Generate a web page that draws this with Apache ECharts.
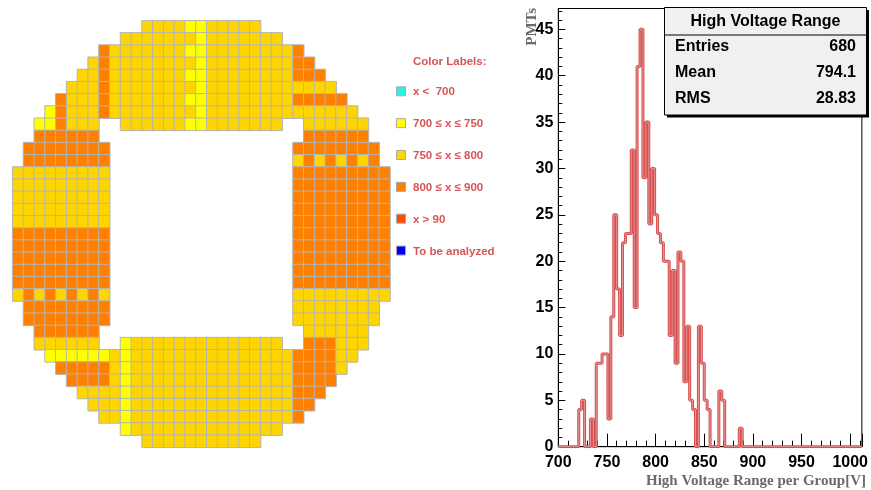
<!DOCTYPE html>
<html><head><meta charset="utf-8">
<script src="https://cdn.jsdelivr.net/npm/echarts@6/dist/echarts.min.js"></script>
<style>html,body{margin:0;padding:0;background:#fff}#c{width:871px;height:490px}</style>
</head><body><div id="c"></div>
<script>
// ---- PMT map: one string per row, one char per cell (. = no PMT) ----
const pmtRows = [
  '............' + 'GGGGYYGGGGG' + '............',
  '..........' + 'GGGGGGGYGGGGGGG' + '..........',
  '........' + 'O' + 'GGGGGGGYYGGGGGGGG' + 'O' + '........',
  '.......' + 'GO' + 'GGGGGGGGYGGGGGGGG' + 'OO' + '.......',
  '......' + 'GGO' + 'GGGGGGGYYGGGGGGGG' + 'OOO' + '......',
  '.....' + 'GGGO' + 'GGGGGGGGYGGGGGGGG' + 'GGGG' + '.....',
  '....' + 'OGGGO' + 'GGGGGGGYYGGGGGGGG' + 'OOOOO' + '....',
  '...' + 'YOGGGO' + 'GGGGGGGGYGGGGGGGG' + 'GGGGGG' + '...',
  '..' + 'YYOGGG' + '..' + 'GGGGGGYYGGGGGGG' + '..' + 'GGGGGG' + '..',
  '..' + 'OOOOOO' + '...................' + 'OOOOOO' + '..',
  '.' + 'OOOOOOOO' + '.................' + 'OOOOOOOO' + '.',
  '.' + 'OOOOOOOO' + '.................' + 'GOGOGOGO' + '.',
  'GGGGGGGGG' + '.................' + 'OOOOOOOOO',
  'GGGGGGGGG' + '.................' + 'OOOOOOOOO',
  'GGGGGGGGG' + '.................' + 'OOOOOOOOO',
  'GGGGGGGGG' + '.................' + 'OOOOOOOOO',
  'GGGGGGGGG' + '.................' + 'OOOOOOOOO',
  'OOOOOOOOO' + '.................' + 'OOOOOOOOO',
  'OOOOOOOOO' + '.................' + 'OOOOOOOOO',
  'OOOOOOOOO' + '.................' + 'OOOOOOOOO',
  'OOOOOOOOO' + '.................' + 'OOOOOOOOO',
  'OOOOOOOOO' + '.................' + 'OOOOOOOOO',
  'GOGOGOGOG' + '.................' + 'GGGGGGGGG',
  '.' + 'OOOOOOOO' + '.................' + 'GGGGGGGG' + '.',
  '.' + 'OOOOOOOO' + '.................' + 'GGGGGGGG' + '.',
  '..' + 'OOOOOO' + '...................' + 'GGGGGG' + '..',
  '..' + 'GGGGGG' + '..' + 'YGGGGGGGGGGGGGG' + '..' + 'OOOGGG' + '..',
  '...' + 'YYYYYYGY' + 'GGGGGGGGGGGGGGG' + 'OOOOGG' + '...',
  '....' + 'OOOOOGY' + 'GGGGGGGGGGGGGGG' + 'OOOOG' + '....',
  '.....' + 'OOOOGY' + 'GGGGGGGGGGGGGGG' + 'OOOO' + '.....',
  '......' + 'GGGGY' + 'GGGGGGGGGGGGGGG' + 'OOO' + '......',
  '.......' + 'GGGY' + 'GGGGGGGGGGGGGGG' + 'OO' + '.......',
  '........' + 'GGY' + 'GGGGGGGGGGGGGGG' + 'O' + '........',
  '..........' + 'Y' + 'GGGGGGGGGGGGGG' + '..........',
  '............' + 'GGGGGGGGGGG' + '............'
];
const legendKeys   = ['C', 'Y', 'G', 'O', 'R', 'B'];
const legendLabels = ['x <  700', '700 \u2264 x \u2264 750', '750 \u2264 x \u2264 800', '800 \u2264 x \u2264 900', 'x > 90', 'To be analyzed'];
const keyColors = { C: '#2ef2e0', Y: '#ffff00', G: '#ffd500', O: '#ff7f00', R: '#ff4a00', B: '#0000ff' };

// ---- Histogram: 3 V bins from 700 V ----
const binStart = 700;
const binWidth = 3;
const counts = [
  0, 0, 0, 0, 0, 0, 0, 4, 5, 0,
  0, 3, 0, 9, 9, 10, 10, 3, 14, 25,
  17, 12, 22, 23, 23, 32, 15, 41, 45, 29,
  35, 24, 30, 25, 23, 22, 20, 20, 12, 19,
  9, 21, 20, 7, 13, 5, 4, 0, 13, 9,
  5, 4, 0, 0, 0, 6, 5, 0, 0, 0,
  0, 0, 2, 0, 0, 0, 0, 0, 0, 0,
  0, 0, 0, 0, 0, 0, 0, 0, 0, 0,
  0, 0, 0, 0, 0, 0, 0, 0, 0, 0,
  0, 0, 0, 0, 0, 0, 0, 0, 0, 0,
  0, 0, 0, 0
];
const xMin = 700, xMax = 1012, xMajor = 50, xMinor = 10;
const yMin = 0, yMax = 47.25, yMajor = 5, yMinor = 1;
const statsTitle = 'High Voltage Range';
const statsLabels = ['Entries', 'Mean', 'RMS'];
const statsValues = ['680', '794.1', '28.83'];
const xTitle = 'High Voltage Range per Group[V]';
const yTitle = 'PMTs';

// ---- build ----
const nCols = pmtRows[0].length, nRows = pmtRows.length;
const cellData = [];
pmtRows.forEach((row, r) => {
  for (let c = 0; c < row.length; c++) {
    const k = row[c];
    if (k !== '.') cellData.push([c, r, legendKeys.indexOf(k)]);
  }
});
const histData = counts.map((v, k) => [binStart + k * binWidth, v]);
histData.push([binStart + counts.length * binWidth, 0]);

const sans = '"Liberation Sans", Arial, sans-serif';
const serif = '"Liberation Serif", "Times New Roman", serif';
const legendColor = '#d65656';

const graphics = [];
graphics.push({ type: 'text', x: 413, y: 61.7, style: { text: 'Color Labels:', fill: legendColor, font: 'bold 11.5px ' + sans, align: 'left', verticalAlign: 'middle' } });
legendKeys.forEach((k, i) => {
  const yc = 92.3 + i * 31.85;
  graphics.push({ type: 'rect', shape: { x: 396.5, y: yc - 5.5, width: 9, height: 9 }, style: { fill: keyColors[k], stroke: '#a8a8a8', lineWidth: 1 } });
  graphics.push({ type: 'text', x: 413, y: yc, style: { text: legendLabels[i], fill: legendColor, font: 'bold 11.5px ' + sans, align: 'left', verticalAlign: 'middle' } });
});
// stats box
graphics.push({ type: 'rect', z: 10, shape: { x: 667, y: 10, width: 202, height: 107.5 }, style: { fill: '#000' } });
graphics.push({ type: 'rect', z: 11, shape: { x: 664.5, y: 7.5, width: 202, height: 107.5 }, style: { fill: '#f0f0f0', stroke: '#000', lineWidth: 1 } });
graphics.push({ type: 'line', z: 12, shape: { x1: 664.5, y1: 35, x2: 866.5, y2: 35 }, style: { stroke: '#000', lineWidth: 1 } });
graphics.push({ type: 'text', z: 12, x: 765.5, y: 21.5, style: { text: statsTitle, fill: '#000', font: 'bold 16px ' + sans, align: 'center', verticalAlign: 'middle' } });
statsLabels.forEach((l, i) => {
  const yc = 47 + i * 26;
  graphics.push({ type: 'text', z: 12, x: 675, y: yc, style: { text: l, fill: '#000', font: 'bold 16px ' + sans, align: 'left', verticalAlign: 'middle' } });
  graphics.push({ type: 'text', z: 12, x: 856, y: yc, style: { text: statsValues[i], fill: '#000', font: 'bold 16px ' + sans, align: 'right', verticalAlign: 'middle' } });
});
// axis titles
graphics.push({ type: 'text', x: 866, y: 489, style: { text: xTitle, fill: '#6a6a6a', font: 'bold 15px ' + serif, align: 'right', verticalAlign: 'bottom' } });
graphics.push({ type: 'text', x: 540, y: 8, rotation: Math.PI / 2, style: { text: yTitle, fill: '#6a6a6a', font: 'bold 15px ' + serif, align: 'right', verticalAlign: 'bottom' } });

const tickLabel = { color: '#000', fontFamily: sans, fontWeight: 'bold', fontSize: 16 };
const chart = echarts.init(document.getElementById('c'), null, { renderer: 'canvas' });
chart.setOption({
  animation: false,
  backgroundColor: '#fff',
  grid: [
    { left: 12.7, top: 20.7, width: 377.3, height: 426.6 },
    { left: 558.3, top: 8.5, width: 308.6, height: 438.2, show: true, borderColor: '#000', borderWidth: 1, backgroundColor: 'transparent' }
  ],
  visualMap: {
    type: 'piecewise', show: false, seriesIndex: 0, dimension: 2,
    pieces: legendKeys.map((k, i) => ({ value: i, color: keyColors[k] }))
  },
  xAxis: [
    { gridIndex: 0, type: 'category', data: Array.from({ length: nCols }, (_, i) => i), show: false },
    { gridIndex: 1, type: 'value', min: xMin, max: xMax, interval: xMajor, position: 'bottom',
      axisLine: { show: true, lineStyle: { color: '#000', width: 1 } },
      axisTick: { show: true, inside: true, length: 13, lineStyle: { color: '#000', width: 1 } },
      axisLabel: Object.assign({ margin: 8, formatter: v => (v % xMajor === 0 ? String(v) : '') }, tickLabel),
      splitLine: { show: false } },
    { gridIndex: 1, type: 'value', min: xMin, max: xMax, interval: xMinor, position: 'bottom',
      axisLine: { show: false }, axisLabel: { show: false }, splitLine: { show: false },
      axisTick: { show: true, inside: true, length: 6, lineStyle: { color: '#000', width: 1 } } }
  ],
  yAxis: [
    { gridIndex: 0, type: 'category', data: Array.from({ length: nRows }, (_, i) => i), inverse: true, show: false },
    { gridIndex: 1, type: 'value', min: yMin, max: yMax, interval: yMajor, position: 'left',
      axisLine: { show: true, lineStyle: { color: '#000', width: 1 } },
      axisTick: { show: true, inside: true, length: 7, lineStyle: { color: '#000', width: 1 } },
      axisLabel: Object.assign({ margin: 5, formatter: v => (v % yMajor === 0 ? String(v) : '') }, tickLabel),
      splitLine: { show: false } },
    { gridIndex: 1, type: 'value', min: yMin, max: yMax, interval: yMinor, position: 'left',
      axisLine: { show: false }, axisLabel: { show: false }, splitLine: { show: false },
      axisTick: { show: true, inside: true, length: 4, lineStyle: { color: '#000', width: 1 } } }
  ],
  series: [
    { type: 'heatmap', xAxisIndex: 0, yAxisIndex: 0, data: cellData, silent: true,
      itemStyle: { borderColor: '#b4b4b4', borderWidth: 1 } },
    { type: 'line', xAxisIndex: 1, yAxisIndex: 1, data: histData, step: 'end', symbol: 'none', silent: true,
      lineStyle: { color: '#d65050', width: 3 } },
    { type: 'line', xAxisIndex: 1, yAxisIndex: 1, data: histData, step: 'end', symbol: 'none', silent: true,
      lineStyle: { color: '#eca3a3', width: 0.8 } }
  ],
  graphic: graphics
});
</script></body></html>
